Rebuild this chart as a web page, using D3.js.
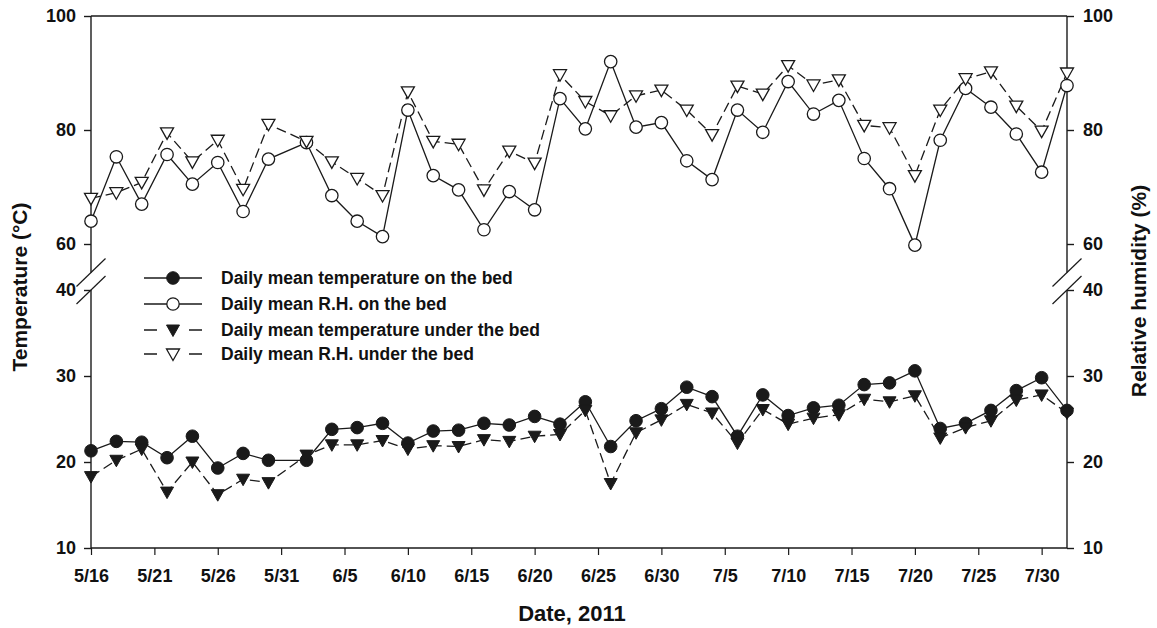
<!DOCTYPE html>
<html>
<head>
<meta charset="utf-8">
<script src="https://cdn.jsdelivr.net/npm/d3@7"></script>
<style>
  html, body { margin: 0; padding: 0; background: #fff; }
  svg { display: block; }
  text { font-family: "Liberation Sans", Arial, sans-serif; font-weight: bold; fill: #111; }
</style>
</head>
<body>
<svg id="chart" width="1157" height="628"></svg>
<script>
// Sampling dates (every second day, 2011)
const dates = ["5/16","5/18","5/20","5/22","5/24","5/26","5/28","5/30",
  "6/2","6/4","6/6","6/8","6/10","6/12","6/14","6/16","6/18","6/20","6/22","6/24","6/26","6/28","6/30",
  "7/2","7/4","7/6","7/8","7/10","7/12","7/14","7/16","7/18","7/20","7/22","7/24","7/26","7/28","7/30",
  "8/1"];

// Daily mean relative humidity (%)
const rhOnBed = [64.0, 75.3, 67.0, 75.7, 70.5, 74.3, 65.7, 74.9,
  77.8, 68.5, 64.0, 61.3, 83.5, 72.0, 69.5, 62.5, 69.2, 66.0, 85.5, 80.2, 92.0, 80.5, 81.3,
  74.6, 71.3, 83.5, 79.6, 88.5, 82.8, 85.2, 75.0, 69.7, 59.8, 78.2, 87.3, 84.0, 79.3, 72.6,
  87.8];
const rhUnderBed = [68.0, 69.0, 70.8, 79.5, 74.4, 78.2, 69.6, 81.0,
  78.0, 74.4, 71.5, 68.5, 86.7, 78.0, 77.5, 69.5, 76.3, 74.2, 89.7, 85.0, 82.5, 86.0, 87.0,
  83.5, 79.2, 87.7, 86.3, 91.3, 87.9, 88.8, 80.8, 80.4, 72.0, 83.5, 89.0, 90.2, 84.2, 79.8,
  90.0];

// Daily mean temperature (°C)
const tempOnBed = [21.3, 22.4, 22.3, 20.5, 23.0, 19.3, 21.0, 20.2,
  20.2, 23.8, 24.0, 24.5, 22.2, 23.6, 23.7, 24.5, 24.3, 25.3, 24.4, 27.0, 21.8, 24.8, 26.2,
  28.7, 27.6, 23.0, 27.8, 25.4, 26.3, 26.6, 29.0, 29.2, 30.6, 23.9, 24.5, 26.0, 28.3, 29.8,
  26.0];
const tempUnderBed = [18.3, 20.2, 21.5, 16.5, 20.0, 16.2, 18.0, 17.6,
  20.8, 22.0, 22.0, 22.5, 21.5, 21.9, 21.8, 22.6, 22.4, 23.0, 23.2, 26.0, 17.5, 23.4, 24.9,
  26.7, 25.7, 22.2, 26.1, 24.4, 25.1, 25.5, 27.3, 27.0, 27.7, 22.8, 24.0, 24.8, 27.2, 27.8,
  25.7];

// Axis ticks
const xTickLabels = ["5/16","5/21","5/26","5/31","6/5","6/10","6/15","6/20","6/25","6/30",
  "7/5","7/10","7/15","7/20","7/25","7/30"];
const upperTicks = [60, 80, 100];
const lowerTicks = [10, 20, 30, 40];

const legendLabels = [
  "Daily mean temperature on the bed",
  "Daily mean R.H. on the bed",
  "Daily mean temperature under the bed",
  "Daily mean R.H. under the bed"
];

const parseDay = s => { const [m, d] = s.split("/").map(Number); return new Date(2011, m - 1, d); };

const svg = d3.select("#chart");
const INK = "#1a1a1a";
const L = 91, R = 1067, T = 16, B = 548;

const x = d3.scaleTime()
  .domain([new Date(2011, 4, 16), new Date(2011, 7, 1)])
  .range([L, R]);
const yTop = d3.scaleLinear().domain([60, 100]).range([244, T]);
const yBot = d3.scaleLinear().domain([10, 40]).range([B, 290]);
const breakUpper = 272.5, breakLower = 290;

// Frame: top line
svg.append("line").attr("x1", L).attr("x2", R).attr("y1", T).attr("y2", T)
  .attr("stroke", INK).attr("stroke-width", 1.4);

// Left and right axis lines, broken between panels
[L, R].forEach(ax => {
  svg.append("line").attr("x1", ax).attr("x2", ax).attr("y1", T).attr("y2", breakUpper)
    .attr("stroke", INK).attr("stroke-width", 1.4);
  svg.append("line").attr("x1", ax).attr("x2", ax).attr("y1", breakLower).attr("y2", B)
    .attr("stroke", INK).attr("stroke-width", 1.4);
  [breakUpper, breakLower].forEach(cy => {
    svg.append("line")
      .attr("x1", ax - 14.5).attr("y1", cy + 14)
      .attr("x2", ax + 14.5).attr("y2", cy - 14)
      .attr("stroke", INK).attr("stroke-width", 1.2);
  });
});

function styleAxis(g) {
  g.select(".domain").remove();
  g.selectAll(".tick line").attr("stroke", INK).attr("stroke-width", 1.4);
  g.selectAll(".tick text").attr("font-size", 18).attr("fill", INK)
    .attr("font-family", '"Liberation Sans", Arial, sans-serif').attr("font-weight", "bold");
}

// Left axes
svg.append("g").attr("transform", `translate(${L},0)`)
  .call(d3.axisLeft(yTop).tickValues(upperTicks).tickSize(7).tickPadding(8)).call(styleAxis);
svg.append("g").attr("transform", `translate(${L},0)`)
  .call(d3.axisLeft(yBot).tickValues(lowerTicks).tickSize(7).tickPadding(8)).call(styleAxis);
// Right axes
svg.append("g").attr("transform", `translate(${R},0)`)
  .call(d3.axisRight(yTop).tickValues(upperTicks).tickSize(7).tickPadding(9)).call(styleAxis);
svg.append("g").attr("transform", `translate(${R},0)`)
  .call(d3.axisRight(yBot).tickValues(lowerTicks).tickSize(7).tickPadding(9)).call(styleAxis);

// Bottom axis
svg.append("g").attr("transform", `translate(0,${B})`)
  .call(d3.axisBottom(x).tickValues(xTickLabels.map(parseDay))
    .tickFormat(d3.timeFormat("%-m/%-d")).tickSize(7).tickPadding(14))
  .call(g => {
    styleAxis(g);
    g.selectAll(".tick line").attr("stroke-width", 1.2);
  });
// Bottom frame line drawn over the axis
svg.append("line").attr("x1", L).attr("x2", R).attr("y1", B).attr("y2", B)
  .attr("stroke", INK).attr("stroke-width", 1.4);

// Axis titles
svg.append("text").attr("x", (L + R) / 2 - 7).attr("y", 621)
  .attr("text-anchor", "middle").attr("font-size", 22).text("Date, 2011");
svg.append("text").attr("transform", "translate(27,287) rotate(-90)")
  .attr("text-anchor", "middle").attr("font-size", 21).text("Temperature (°C)");
svg.append("text").attr("transform", "translate(1146,291) rotate(-90)")
  .attr("text-anchor", "middle").attr("font-size", 21).text("Relative humidity (%)");

// Marker shapes
const triDown = "M-6.5,-5 L6.5,-5 L0,6.5 Z";
function drawMarker(sel, kind) {
  if (kind === "filledCircle") {
    sel.append("circle").attr("r", 6.3).attr("fill", INK).attr("stroke", INK).attr("stroke-width", 1);
  } else if (kind === "openCircle") {
    sel.append("circle").attr("r", 6.2).attr("fill", "#fff").attr("stroke", INK).attr("stroke-width", 1.3);
  } else if (kind === "filledTri") {
    sel.append("path").attr("d", triDown).attr("fill", INK).attr("stroke", INK).attr("stroke-width", 1);
  } else {
    sel.append("path").attr("d", triDown).attr("fill", "#fff").attr("stroke", INK).attr("stroke-width", 1.3);
  }
}

const series = [
  { values: tempOnBed, y: yBot, dash: null, marker: "filledCircle" },
  { values: rhOnBed, y: yTop, dash: null, marker: "openCircle" },
  { values: tempUnderBed, y: yBot, dash: "10,5", marker: "filledTri" },
  { values: rhUnderBed, y: yTop, dash: "10,5", marker: "openTri" }
];

const dayDates = dates.map(parseDay);

// Lines first
series.forEach(s => {
  const line = d3.line().x((d, i) => x(dayDates[i])).y(d => s.y(d));
  svg.append("path").datum(s.values).attr("d", line)
    .attr("fill", "none").attr("stroke", INK).attr("stroke-width", 1.3)
    .attr("stroke-dasharray", s.dash);
});
// Then markers
series.forEach(s => {
  svg.append("g").selectAll("g").data(s.values).join("g")
    .attr("transform", (d, i) => `translate(${x(dayDates[i])},${s.y(d)})`)
    .each(function () { drawMarker(d3.select(this), s.marker); });
});

// Legend
const legendRows = [278, 304, 330, 354];
series.forEach((s, i) => {
  const g = svg.append("g").attr("transform", `translate(0,${legendRows[i]})`);
  g.append("line").attr("x1", 144).attr("x2", 202).attr("y1", 0).attr("y2", 0)
    .attr("stroke", INK).attr("stroke-width", 1.3)
    .attr("stroke-dasharray", s.dash ? "13,32,13" : null);
  const m = g.append("g").attr("transform", "translate(173,0)");
  drawMarker(m, s.marker);
  g.append("text").attr("x", 221).attr("y", 6).attr("font-size", 17.5).text(legendLabels[i]);
});
</script>
</body>
</html>
